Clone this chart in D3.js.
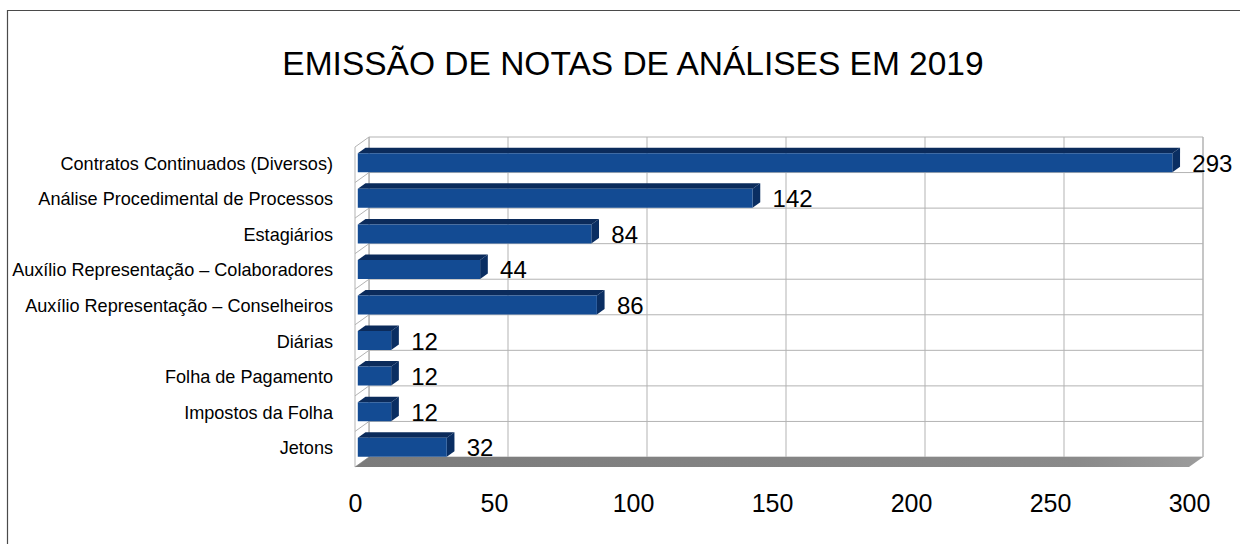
<!DOCTYPE html>
<html>
<head>
<meta charset="utf-8">
<script src="https://cdn.jsdelivr.net/npm/d3@7"></script>
<style>
  html, body { margin: 0; padding: 0; background: #ffffff; }
  svg { display: block; font-family: "Liberation Sans", Arial, sans-serif; }
</style>
</head>
<body>
<svg id="chart" width="1240" height="544"></svg>
<script>
// Chart data
const title = "EMISSÃO DE NOTAS DE ANÁLISES EM 2019";
const categories = [
  "Contratos Continuados (Diversos)",
  "Análise Procedimental de Processos",
  "Estagiários",
  "Auxílio Representação – Colaboradores",
  "Auxílio Representação – Conselheiros",
  "Diárias",
  "Folha de Pagamento",
  "Impostos da Folha",
  "Jetons"
];
const values = [293, 142, 84, 44, 86, 12, 12, 12, 32];
const tickValues = [0, 50, 100, 150, 200, 250, 300];

const svg = d3.select("#chart");

// Front plane scales; depth is an oblique offset towards the back wall
const x = d3.scaleLinear().domain([0, 300]).range([355, 1189]);
const y = d3.scaleBand().domain(categories).range([147, 467])
  .paddingInner(0.465).paddingOuter(0.2325);
const depth = { dx: 14, dy: -10 };
const proj = (px, py, z) => [px + depth.dx * z, py + depth.dy * z];
const barZ = [0.2, 0.75];

const poly = pts => "M" + pts.map(p => p.join(",")).join("L") + "Z";

// Outer frame
svg.append("path")
  .attr("d", "M7.5,544 V10.5 H1240")
  .attr("fill", "none").attr("stroke", "#4a4a4a").attr("stroke-width", 1.2);

// Title
svg.append("text")
  .attr("x", 633).attr("y", 75)
  .attr("text-anchor", "middle")
  .attr("font-size", 33.5)
  .attr("fill", "#000")
  .text(title);

const [x0, x1] = x.range();
const [yTop, yBot] = y.range();
const step = y.step();
const gridColor = "#b3b3b3";

// Back wall
const back = (px, py) => proj(px, py, 1);
svg.append("path")
  .attr("d", poly([back(x0, yTop), back(x1, yTop), back(x1, yBot), back(x0, yBot)]))
  .attr("fill", "#ffffff").attr("stroke", gridColor).attr("stroke-width", 1);

// Left wall
svg.append("path")
  .attr("d", poly([[x0, yTop], back(x0, yTop), back(x0, yBot), [x0, yBot]]))
  .attr("fill", "#ffffff").attr("stroke", gridColor).attr("stroke-width", 1);

// Floor
const defs = svg.append("defs");
const fg = defs.append("linearGradient").attr("id", "floorGrad")
  .attr("x1", "0").attr("x2", "1").attr("y1", "0").attr("y2", "0");
fg.append("stop").attr("offset", "0").attr("stop-color", "#7b7b7b");
fg.append("stop").attr("offset", "0.85").attr("stop-color", "#8a8a8a");
fg.append("stop").attr("offset", "1").attr("stop-color", "#9c9c9c");
svg.append("path")
  .attr("d", poly([[x0, yBot], [x1, yBot], back(x1, yBot), back(x0, yBot)]))
  .attr("fill", "url(#floorGrad)");

// Vertical grid lines on the back wall
const gridG = svg.append("g").attr("stroke", gridColor).attr("stroke-width", 1).attr("fill", "none");
tickValues.forEach(v => {
  const a = back(x(v), yTop), b = back(x(v), yBot);
  gridG.append("line").attr("x1", a[0]).attr("y1", a[1]).attr("x2", b[0]).attr("y2", b[1]);
});

// Horizontal grid lines between categories (back wall + left wall)
d3.range(1, categories.length).forEach(i => {
  const gy = yTop + i * step;
  const a = back(x0, gy), b = back(x1, gy);
  gridG.append("line").attr("x1", a[0]).attr("y1", a[1]).attr("x2", b[0]).attr("y2", b[1]);
  gridG.append("line").attr("x1", x0).attr("y1", gy).attr("x2", a[0]).attr("y2", a[1]);
});

// 3D bars
const barColors = { front: "#134b93", top: "#0b2b5b", side: "#0a2e62" };
const bars = svg.append("g");
categories.forEach((c, i) => {
  const v = values[i];
  const yb0 = y(c), yb1 = y(c) + y.bandwidth();
  const xa = x(0), xb = x(v);
  const f = (px, py) => proj(px, py, barZ[0]);
  const r = (px, py) => proj(px, py, barZ[1]);
  // top face
  bars.append("path").attr("d", poly([f(xa, yb0), f(xb, yb0), r(xb, yb0), r(xa, yb0)]))
    .attr("fill", barColors.top);
  // side face
  bars.append("path").attr("d", poly([f(xb, yb0), r(xb, yb0), r(xb, yb1), f(xb, yb1)]))
    .attr("fill", barColors.side);
  // front face
  bars.append("path").attr("d", poly([f(xa, yb0), f(xb, yb0), f(xb, yb1), f(xa, yb1)]))
    .attr("fill", barColors.front);

  // value label
  const end = f(xb, yb1);
  svg.append("text")
    .attr("x", end[0] + 20).attr("y", end[1] - 0.5)
    .attr("font-size", 24).attr("fill", "#000")
    .text(v);

  // category label
  const mid = f(xa, (yb0 + yb1) / 2);
  svg.append("text")
    .attr("x", 333).attr("y", mid[1] + 1)
    .attr("text-anchor", "end").attr("dominant-baseline", "central")
    .attr("font-size", 18.1).attr("fill", "#000")
    .text(c);
});

// Value axis labels
const axisG = svg.append("g")
  .attr("transform", `translate(0, ${yBot + 20})`)
  .call(d3.axisBottom(x).tickValues(tickValues).tickSize(0).tickPadding(0));
axisG.select(".domain").remove();
axisG.selectAll("text")
  .attr("font-size", 25).attr("fill", "#000")
  .attr("font-family", "Liberation Sans, Arial, sans-serif")
  .attr("dy", "1em");
</script>
</body>
</html>
